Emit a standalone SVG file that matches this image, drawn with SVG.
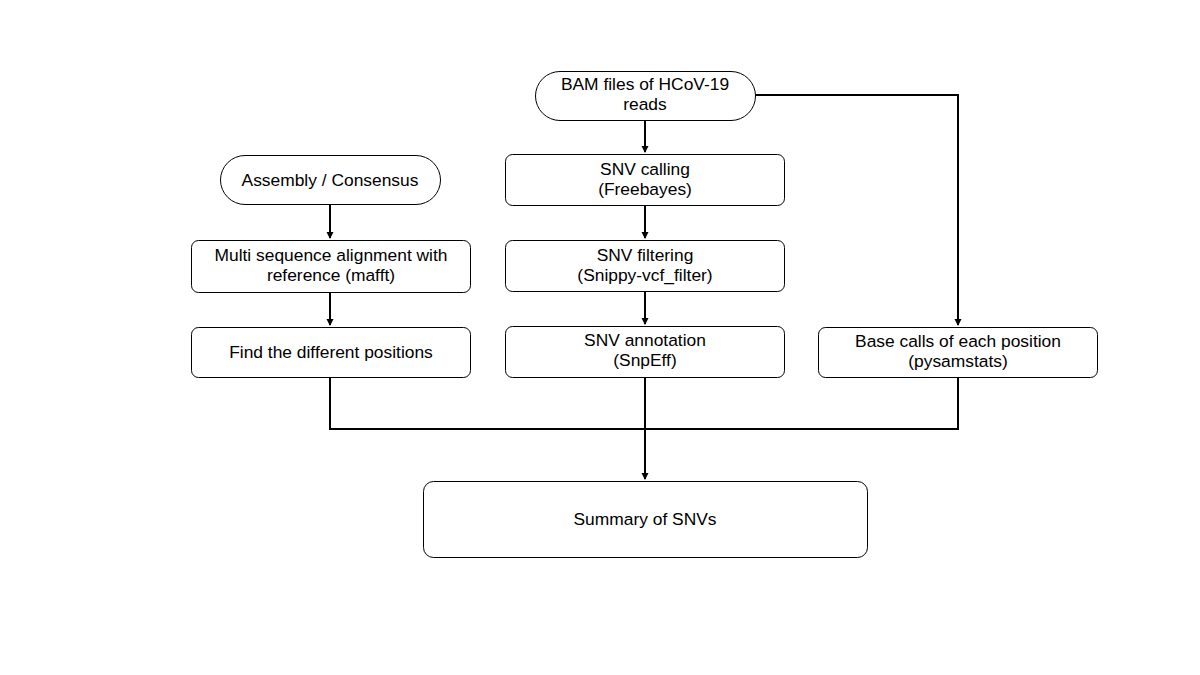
<svg xmlns="http://www.w3.org/2000/svg" width="1200" height="675" viewBox="0 0 1200 675">
<style>
.box{fill:#fff;stroke:#000;stroke-width:1}
.t{font-family:"Liberation Sans",Arial,sans-serif;font-size:17.4px;fill:#000;text-anchor:middle}
.c{fill:none;stroke:#000;stroke-width:2}
</style>
<defs>
<marker id="ah" markerWidth="8" markerHeight="8" refX="6" refY="4" orient="auto" markerUnits="userSpaceOnUse">
<path d="M0,0.5 L7,4 L0,7.5 Z" fill="#000"/>
</marker>
</defs>
<rect width="1200" height="675" fill="#fff"/>
<g id="connectors">
<path class="c" d="M645,120 V152" marker-end="url(#ah)"/>
<path class="c" d="M645,205 V238" marker-end="url(#ah)"/>
<path class="c" d="M645,291 V324" marker-end="url(#ah)"/>
<path class="c" d="M330,204 V238" marker-end="url(#ah)"/>
<path class="c" d="M330,292 V325" marker-end="url(#ah)"/>
<path class="c" d="M755,95 H958 V325" marker-end="url(#ah)"/>
<path class="c" d="M330,377 V429 H958 V377"/>
<path class="c" d="M645,377 V479" marker-end="url(#ah)"/>
</g>
<g id="bam">
<rect class="box" x="535.5" y="71.5" width="220" height="49" rx="24.5"/>
<text class="t" x="645" y="90">BAM files of HCoV-19</text>
<text class="t" x="645" y="110">reads</text>
</g>
<g id="snv-calling">
<rect class="box" x="505.5" y="154.5" width="279" height="51" rx="7"/>
<text class="t" x="645" y="175">SNV calling</text>
<text class="t" x="645" y="195">(Freebayes)</text>
</g>
<g id="snv-filtering">
<rect class="box" x="505.5" y="240.5" width="279" height="51" rx="7"/>
<text class="t" x="645" y="261">SNV filtering</text>
<text class="t" x="645" y="281">(Snippy-vcf_filter)</text>
</g>
<g id="snv-annotation">
<rect class="box" x="505.5" y="326.5" width="279" height="51" rx="7"/>
<text class="t" x="645" y="346">SNV annotation</text>
<text class="t" x="645" y="366">(SnpEff)</text>
</g>
<g id="assembly">
<rect class="box" x="220.5" y="155.5" width="220" height="49" rx="24.5"/>
<text class="t" x="330" y="186">Assembly / Consensus</text>
</g>
<g id="msa">
<rect class="box" x="191.5" y="240.5" width="279" height="52" rx="7"/>
<text class="t" x="331" y="261">Multi sequence alignment with</text>
<text class="t" x="331" y="281">reference (mafft)</text>
</g>
<g id="find">
<rect class="box" x="191.5" y="327.5" width="279" height="50" rx="7"/>
<text class="t" x="331" y="358">Find the different positions</text>
</g>
<g id="basecalls">
<rect class="box" x="818.5" y="327.5" width="279" height="50" rx="7"/>
<text class="t" x="958" y="347">Base calls of each position</text>
<text class="t" x="958" y="367">(pysamstats)</text>
</g>
<g id="summary">
<rect class="box" x="423.5" y="481.5" width="444" height="76" rx="10"/>
<text class="t" x="645" y="525">Summary of SNVs</text>
</g>
</svg>
